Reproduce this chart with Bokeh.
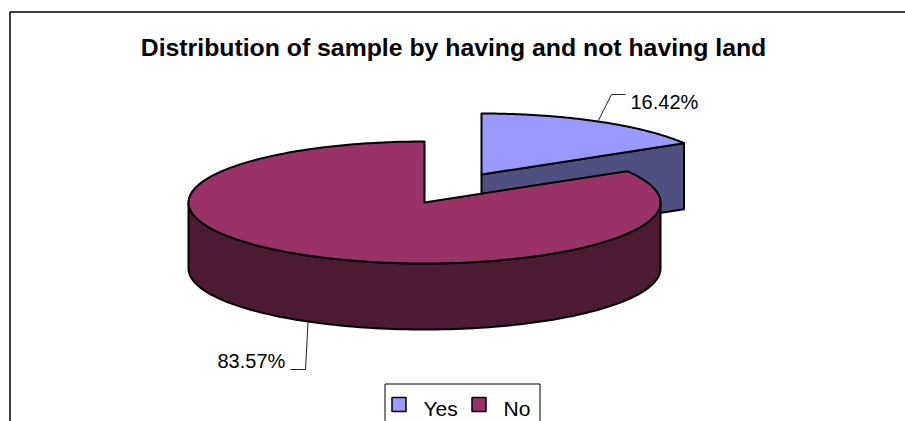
import math
from bokeh.core.properties import value
from bokeh.embed import file_html
from bokeh.models import Range1d
from bokeh.plotting import figure
from bokeh.resources import INLINE

# Chart content
title_text = "Distribution of sample by having and not having land"
categories = ["Yes", "No"]
shares = [16.42, 83.57]
top_colors = ["#9999FF", "#993366"]
side_colors = ["#4F4F80", "#4D1A33"]

# Pie projection, in screen pixels
RX, RY, DEPTH = 236, 61, 66
CENTERS = {"Yes": (481, 174), "No": (424, 202)}
FONT = value("Liberation Sans")

p = figure(width=905, height=421, output_backend="svg", toolbar_location=None,
           x_range=Range1d(0, 905), y_range=Range1d(421, 0), min_border=0,
           background_fill_color="white", border_fill_color="white")
p.axis.visible = False
p.grid.visible = False
p.outline_line_color = None


def rim(center, angle):
    """Point on the tilted pie rim; angle in degrees clockwise from twelve o'clock."""
    a = math.radians(angle)
    return center[0] + RX * math.sin(a), center[1] - RY * math.cos(a)


def arc(center, start, stop, n=120):
    pts = [rim(center, start + (stop - start) * i / n) for i in range(n + 1)]
    return [q[0] for q in pts], [q[1] for q in pts]


def outline(xs, ys, color):
    p.patch(xs, ys, fill_color=color, line_color="black", line_width=2,
            line_join="round")


def leader(xs, ys):
    p.line(xs, ys, line_color="#222222", line_width=1)


total = sum(shares)
sweep = shares[0] / total * 360

# Chart frame: only its top and left edges fall inside the page
p.line([9.5, 9.5, 920], [430, 11.5, 11.5], line_color="black", line_width=1.5)

# Detached "Yes" slice: cut face first, then its top
cy = CENTERS["Yes"]
tip = rim(cy, sweep)
outline([cy[0], tip[0], tip[0], cy[0]],
        [cy[1], tip[1], tip[1] + DEPTH, cy[1] + DEPTH], side_colors[0])
ax, ay = arc(cy, 0, sweep)
outline([cy[0]] + ax, [cy[1]] + ay, top_colors[0])

# "No" slice: front wall, then its top
cn = CENTERS["No"]
wx, wy = arc(cn, 90, 270)
outline(wx + wx[::-1], [y + DEPTH for y in wy] + wy[::-1], side_colors[1])
ax, ay = arc(cn, sweep, 360, 240)
outline([cn[0]] + ax, [cn[1]] + ay, top_colors[1])

# Percentage labels with leader lines from the middle of each slice
mx, my = rim(cy, sweep / 2)
leader([mx, 611, 625], [my, 94, 94])
mx, my = rim(cn, sweep + (360 - sweep) / 2)
leader([mx, 305, 290], [my + DEPTH, 369, 369])

p.text([630], [101], text=[f"{shares[0]:.2f}%"], text_font=FONT,
       text_font_size="20px", text_color="black", text_baseline="alphabetic")
p.text([217], [360], text=[f"{shares[1]:.2f}%"], text_font=FONT,
       text_font_size="20px", text_color="black", text_baseline="alphabetic")

p.text([453], [47], text=[title_text], text_font=FONT, text_font_style="bold",
       text_font_size="24.8px", text_color="black", text_align="center",
       text_baseline="alphabetic")

# Legend box, running off the bottom of the page
p.quad(left=[384.5], right=[539.5], top=[383.5], bottom=[440],
       fill_color="white", line_color="black", line_width=1)
swatch_x = [391.5, 471.5]
label_x = [423, 503]
for name, color, sx, lx in zip(categories, top_colors, swatch_x, label_x):
    p.quad(left=[sx], right=[sx + 14], top=[397], bottom=[411],
           fill_color=color, line_color="black", line_width=1.5)
    p.text([lx], [408], text=[name], text_font=FONT, text_font_size="21px",
           text_color="black", text_baseline="alphabetic")

open("out.html", "w").write(file_html(p, INLINE))
